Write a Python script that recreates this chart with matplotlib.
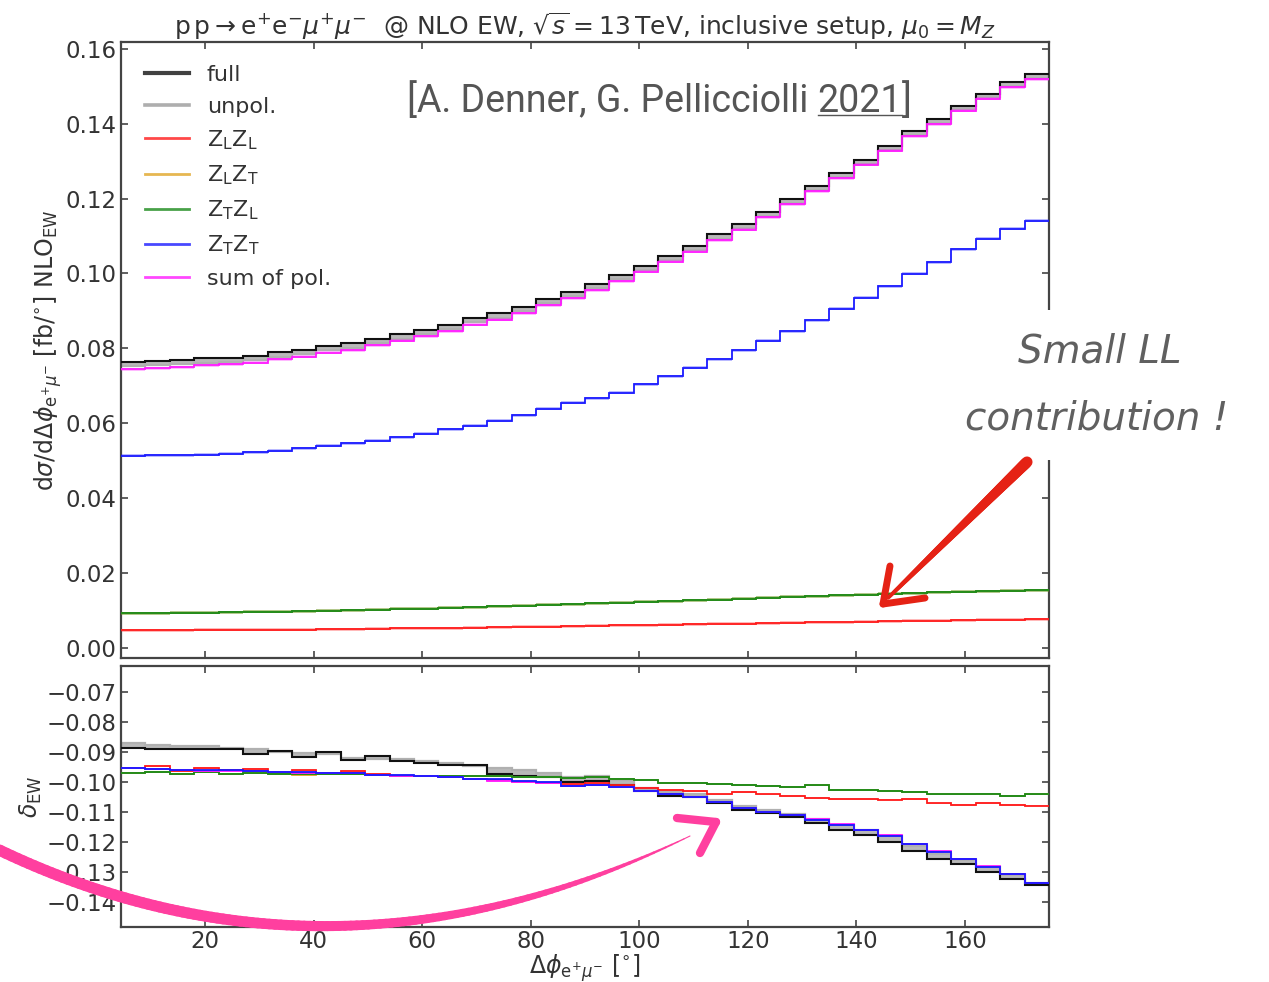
import numpy as np
import matplotlib
matplotlib.use('Agg')
from matplotlib import pyplot as plt
from matplotlib.lines import Line2D
from matplotlib.patches import Rectangle
from matplotlib.collections import LineCollection

# Delta phi bins (degrees), 38 bins of 4.5 deg
phi_edges = np.linspace(4.5, 175.5, 39)

## top panel: dsigma/dDeltaphi at NLO EW [fb/deg] ##
full_top = [0.0763, 0.0766, 0.0768, 0.0773, 0.0775, 0.0780, 0.0789, 0.0795, 0.0806, 0.0813,
            0.0826, 0.0837, 0.0849, 0.0863, 0.0880, 0.0893, 0.0911, 0.0931, 0.0950, 0.0971,
            0.0995, 0.1020, 0.1046, 0.1073, 0.1104, 0.1132, 0.1164, 0.1199, 0.1233, 0.1268,
            0.1304, 0.1341, 0.1380, 0.1412, 0.1448, 0.1480, 0.1510, 0.1532]
unpol_top = [0.0752, 0.0755, 0.0757, 0.0762, 0.0764, 0.0769, 0.0778, 0.0784, 0.0795, 0.0802,
             0.0815, 0.0826, 0.0838, 0.0852, 0.0869, 0.0882, 0.0900, 0.0920, 0.0939, 0.0960,
             0.0984, 0.1009, 0.1035, 0.1062, 0.1093, 0.1121, 0.1153, 0.1188, 0.1222, 0.1257,
             0.1293, 0.1330, 0.1369, 0.1401, 0.1438, 0.1470, 0.1500, 0.1523]
sumpol_top = [0.0744, 0.0747, 0.0749, 0.0755, 0.0757, 0.0762, 0.0771, 0.0777, 0.0788, 0.0795,
              0.0808, 0.0820, 0.0832, 0.0846, 0.0863, 0.0876, 0.0894, 0.0915, 0.0934, 0.0955,
              0.0979, 0.1004, 0.1031, 0.1058, 0.1089, 0.1117, 0.1150, 0.1185, 0.1219, 0.1254,
              0.1290, 0.1327, 0.1366, 0.1398, 0.1435, 0.1467, 0.1497, 0.1519]
zlzl_top = [0.0047, 0.0047, 0.0047, 0.0048, 0.0048, 0.0048, 0.0049, 0.0049, 0.0050, 0.0050,
            0.0051, 0.0052, 0.0052, 0.0053, 0.0054, 0.0055, 0.0056, 0.0057, 0.0058, 0.0059,
            0.0060, 0.0061, 0.0062, 0.0063, 0.0064, 0.0065, 0.0066, 0.0067, 0.0068, 0.0069,
            0.0070, 0.0071, 0.0072, 0.0073, 0.0074, 0.0075, 0.0075, 0.0076]
ztzl_top = [0.0093, 0.0093, 0.0094, 0.0094, 0.0095, 0.0096, 0.0097, 0.0098, 0.0099, 0.0101,
            0.0102, 0.0104, 0.0105, 0.0107, 0.0109, 0.0111, 0.0113, 0.0115, 0.0117, 0.0119,
            0.0121, 0.0123, 0.0125, 0.0127, 0.0129, 0.0131, 0.0134, 0.0136, 0.0138, 0.0140,
            0.0142, 0.0144, 0.0146, 0.0148, 0.0150, 0.0151, 0.0153, 0.0154]
zlzt_top = list(ztzl_top)
ztzt_top = [0.0513, 0.0514, 0.0515, 0.0516, 0.0519, 0.0522, 0.0526, 0.0533, 0.0540, 0.0546,
            0.0553, 0.0562, 0.0572, 0.0584, 0.0593, 0.0606, 0.0621, 0.0639, 0.0655, 0.0666,
            0.0682, 0.0704, 0.0726, 0.0748, 0.0771, 0.0795, 0.0820, 0.0846, 0.0875, 0.0906,
            0.0935, 0.0966, 0.0999, 0.1030, 0.1064, 0.1093, 0.1119, 0.1140]

## bottom panel: delta_EW ##
full_rel = [-0.0887, -0.0892, -0.0890, -0.0892, -0.0890, -0.0909, -0.0898, -0.0917, -0.0903, -0.0929,
            -0.0915, -0.0932, -0.0937, -0.0946, -0.0946, -0.0976, -0.0980, -0.0984, -0.1002, -0.0999,
            -0.1010, -0.1032, -0.1049, -0.1051, -0.1071, -0.1094, -0.1105, -0.1118, -0.1138, -0.1163,
            -0.1178, -0.1200, -0.1231, -0.1259, -0.1275, -0.1301, -0.1326, -0.1345]
unpol_rel = [-0.0872, -0.0879, -0.0883, -0.0883, -0.0887, -0.0892, -0.0901, -0.0906, -0.0909, -0.0920,
             -0.0924, -0.0926, -0.0932, -0.0939, -0.0948, -0.0954, -0.0962, -0.0970, -0.0984, -0.0982,
             -0.0995, -0.1021, -0.1036, -0.1040, -0.1060, -0.1080, -0.1096, -0.1107, -0.1125, -0.1146,
             -0.1161, -0.1183, -0.1214, -0.1241, -0.1261, -0.1286, -0.1312, -0.1338]
zlzl_rel = [-0.0954, -0.0948, -0.0965, -0.0955, -0.0962, -0.0958, -0.0967, -0.0963, -0.0970, -0.0964,
            -0.0976, -0.0980, -0.0982, -0.0984, -0.0990, -0.0996, -0.1002, -0.1004, -0.1009, -0.1006,
            -0.1013, -0.1021, -0.1029, -0.1032, -0.1043, -0.1036, -0.1043, -0.1049, -0.1054, -0.1058,
            -0.1058, -0.1060, -0.1058, -0.1073, -0.1077, -0.1071, -0.1077, -0.1080]
ztzl_rel = [-0.0970, -0.0968, -0.0976, -0.0968, -0.0974, -0.0973, -0.0976, -0.0974, -0.0974, -0.0976,
            -0.0979, -0.0980, -0.0980, -0.0980, -0.0982, -0.0982, -0.0984, -0.0984, -0.0987, -0.0984,
            -0.0990, -0.0995, -0.1004, -0.1006, -0.1009, -0.1012, -0.1015, -0.1017, -0.1013, -0.1027,
            -0.1029, -0.1032, -0.1036, -0.1043, -0.1043, -0.1040, -0.1047, -0.1043]
zlzt_rel = [-0.0970, -0.0968, -0.0976, -0.0968, -0.0974, -0.0973, -0.0976, -0.0978, -0.0974, -0.0976,
            -0.0979, -0.0982, -0.0980, -0.0980, -0.0982, -0.0982, -0.0984, -0.0984, -0.0987, -0.0984,
            -0.0990, -0.0995, -0.1004, -0.1006, -0.1007, -0.1010, -0.1015, -0.1017, -0.1013, -0.1027,
            -0.1029, -0.1032, -0.1034, -0.1043, -0.1043, -0.1040, -0.1047, -0.1043]
ztzt_rel = [-0.0954, -0.0957, -0.0963, -0.0963, -0.0963, -0.0965, -0.0968, -0.0968, -0.0970, -0.0970,
            -0.0979, -0.0979, -0.0982, -0.0984, -0.0991, -0.0993, -0.0999, -0.1002, -0.1015, -0.1013,
            -0.1017, -0.1032, -0.1041, -0.1051, -0.1069, -0.1088, -0.1103, -0.1113, -0.1127, -0.1144,
            -0.1161, -0.1180, -0.1208, -0.1234, -0.1258, -0.1284, -0.1308, -0.1338]
sumpol_rel = [-0.0956, -0.0958, -0.0963, -0.0964, -0.0965, -0.0966, -0.0969, -0.0970, -0.0971, -0.0972,
              -0.0979, -0.0980, -0.0983, -0.0986, -0.0993, -0.0997, -0.1002, -0.1004, -0.1014, -0.1013,
              -0.1018, -0.1031, -0.1040, -0.1050, -0.1068, -0.1087, -0.1102, -0.1112, -0.1126, -0.1143,
              -0.1160, -0.1179, -0.1207, -0.1233, -0.1257, -0.1283, -0.1307, -0.1337]

labels = ['full', 'unpol.', r'Z$_\mathrm{L}$Z$_\mathrm{L}$', r'Z$_\mathrm{L}$Z$_\mathrm{T}$',
          r'Z$_\mathrm{T}$Z$_\mathrm{L}$', r'Z$_\mathrm{T}$Z$_\mathrm{T}$', 'sum of pol.']
c_full, c_unpol, c_ll, c_lt, c_tl, c_tt, c_sum = ['#111111', '#9a9a9a', '#ff1a1a', '#e0a526',
                                                  '#1a8a1a', '#1a1aff', '#ff1aff']

W, H = 1269, 982
fig = plt.figure(figsize=(W / 100, H / 100), dpi=100)
plt.rcParams['font.family'] = ['DejaVu Sans']
axcol = '#444444'
txtcol = '#333333'


# pixel position -> figure fraction
def px(x, y):
    return x / W, 1 - y / H


ax1 = fig.add_axes([121 / W, 1 - 658 / H, (1049 - 121) / W, (658 - 42) / H])
ax2 = fig.add_axes([121 / W, 1 - 927 / H, (1049 - 121) / W, (927 - 666) / H])


def draw_panel(ax, full, unpol, series, band):
    # full vs unpol shaded
    ax.stairs(full, phi_edges, baseline=unpol, fill=True, color='#808080', alpha=0.55, lw=0, zorder=2)
    ax.stairs(unpol, phi_edges, baseline=None, color='#b0b0b0', lw=1.6, zorder=2.5)
    ax.stairs(full, phi_edges, baseline=None, color=c_full, lw=1.5, zorder=3)
    for i, (vals, c) in enumerate(series):
        v = np.array(vals)
        ax.stairs(v + band, phi_edges, baseline=v - band, fill=True, color=c, alpha=0.3, lw=0, zorder=3 + i)
        ax.stairs(v, phi_edges, baseline=None, color=c, lw=1.3, zorder=3.5 + i)


draw_panel(ax1, full_top, unpol_top,
           [(zlzl_top, c_ll), (zlzt_top, c_lt), (ztzl_top, c_tl), (sumpol_top, c_sum), (ztzt_top, c_tt)], 0.0004)
draw_panel(ax2, full_rel, unpol_rel,
           [(zlzl_rel, c_ll), (zlzt_rel, c_lt), (ztzl_rel, c_tl), (sumpol_rel, c_sum), (ztzt_rel, c_tt)], 0.0003)

for ax in (ax1, ax2):
    ax.set_xlim(4.5, 175.5)
    ax.set_xticks([20, 40, 60, 80, 100, 120, 140, 160])
    ax.tick_params(direction='in', top=True, right=True, length=5, width=1.2, color=axcol,
                   labelsize=16.5, labelcolor=txtcol, pad=3)
    for s in ax.spines.values():
        s.set_color(axcol)
        s.set_linewidth(1.6)
ax2.tick_params(axis='x', pad=2)

ax1.set_ylim(-0.0027, 0.1618)
ax1.set_yticks(np.arange(0, 0.161, 0.02))
ax1.set_yticklabels(['%.2f' % v for v in np.arange(0, 0.161, 0.02)])
ax1.tick_params(labelbottom=False)
ax2.set_ylim(-0.1485, -0.0615)
ax2.set_yticks([-0.07, -0.08, -0.09, -0.10, -0.11, -0.12, -0.13, -0.14])
ax2.set_yticklabels(['\u22120.%02d' % k for k in range(7, 15)])

ax1.set_title(r'$\mathrm{p\,p}\rightarrow\mathrm{e}^{+}\mathrm{e}^{-}\mu^{+}\mu^{-}$  @ NLO EW, '
              r'$\sqrt{s}=13\,\mathrm{TeV}$, inclusive setup, $\mu_0=M_Z$',
              fontsize=18, color=txtcol, pad=5)
ax1.set_ylabel(r'd$\sigma$/d$\Delta\phi_{\mathrm{e}^{+}\mu^{-}}$ [fb/$^{\circ}$] NLO$_{\mathrm{EW}}$',
               fontsize=17, color=txtcol, labelpad=1)
ax2.set_ylabel(r'$\delta_{\mathrm{EW}}$', fontsize=17, color=txtcol, labelpad=2)
ax2.set_xlabel(r'$\Delta\phi_{\mathrm{e}^{+}\mu^{-}}$ [$^{\circ}$]', fontsize=17, color=txtcol, labelpad=0)

handles = [Line2D([], [], color=c_full, lw=3.0, alpha=0.8),
           Line2D([], [], color=c_unpol, lw=2.6, alpha=0.8)]
handles += [Line2D([], [], color=c, lw=2.0, alpha=0.8) for c in (c_ll, c_lt, c_tl, c_tt, c_sum)]
leg = ax1.legend(handles, labels, loc='upper left', bbox_to_anchor=(0.004, 0.995), frameon=False,
                 fontsize=16, handlelength=2.0, handletextpad=0.8, labelspacing=0.52)
for t in leg.get_texts():
    t.set_color(txtcol)

# reference note with underlined year
note_col = '#555555'
note_kw = dict(fontsize=27, color=note_col, family='Roboto', weight='normal', va='baseline')
base_y = 1 - 112 / H
t1 = fig.text(407 / W, base_y, '[A. Denner, G. Pellicciolli ', **note_kw)
fig.canvas.draw()
r = fig.canvas.get_renderer()
bb = t1.get_window_extent(r)
t2 = fig.text(bb.x1 / W, base_y, '2021', **note_kw)
bb2 = t2.get_window_extent(r)
fig.text(bb2.x1 / W, base_y, ']', **note_kw)
fig.add_artist(Line2D([bb2.x0 / W, bb2.x1 / W], [1 - 115 / H, 1 - 115 / H], color=note_col, lw=1.0))

# handwritten remark
fig.add_artist(Rectangle(px(945, 460), 320 / W, 150 / H, transform=fig.transFigure,
                         facecolor='white', edgecolor='none', zorder=5))
hand_kw = dict(fontsize=28, color='#606060', ha='center', va='center', style='oblique',
               family='DejaVu Sans', weight='normal', zorder=6)
fig.text(*px(1100, 352), 'Small LL', **hand_kw)
fig.text(*px(1097, 418), 'contribution !', **hand_kw)


# tapered brush strokes
def stroke(pts, widths, color):
    pts = np.array([px(x, y) for x, y in pts])
    segs = np.stack([pts[:-1], pts[1:]], axis=1)
    lc = LineCollection(segs, linewidths=widths, colors=color, capstyle='round',
                        transform=fig.transFigure, zorder=7)
    fig.add_artist(lc)


t = np.linspace(0, 1, 120)
p0, p1, p2 = np.array([-5, 848]), np.array([330, 1010]), np.array([690, 836])
arc = [(1 - s) ** 2 * p0 + 2 * s * (1 - s) * p1 + s ** 2 * p2 for s in t]
stroke(arc, 7.5 * (1 - t[:-1] ** 3) + 0.6, '#ff3f9f')
stroke([(677, 818), (716, 822), (700, 853)], [6, 6], '#ff3f9f')

shaft = [(1027 + (888 - 1027) * s, 462 + (598 - 462) * s) for s in t]
stroke(shaft, 8 - 5.5 * t[:-1], '#e52215')
stroke([(890, 566), (883, 604), (925, 598)], [5, 5], '#e52215')

fig.savefig('out.png', dpi=100)
